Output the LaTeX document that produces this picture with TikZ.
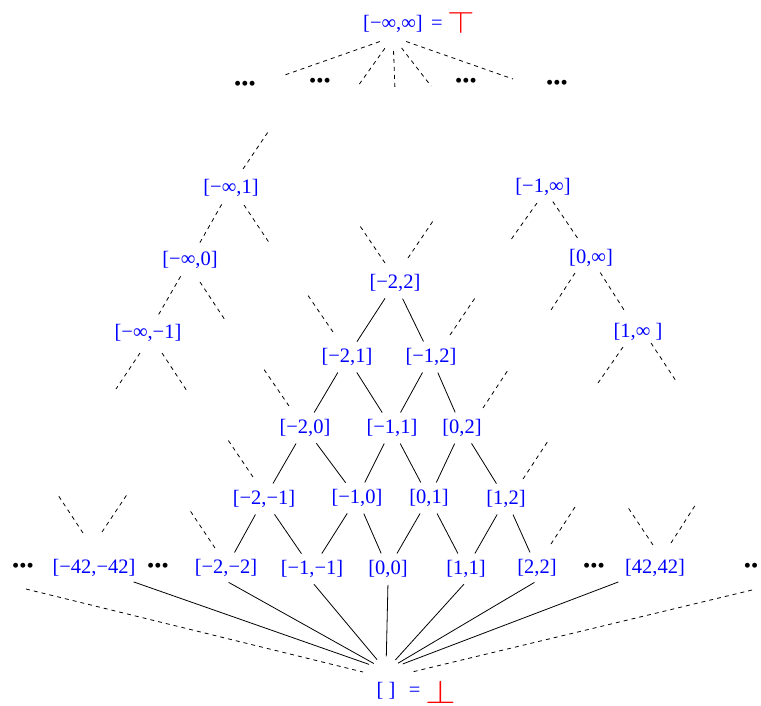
\documentclass[tikz,border=0pt]{standalone}
\usepackage{fontspec}
\setmainfont{Liberation Serif}
\usetikzlibrary{calc}

\begin{document}
\begin{tikzpicture}[x=1pt, y=-1pt,
        every node/.style={font=\fontsize{20.5}{24}\selectfont, text=blue, inner sep=4pt},
        dots/.style={text=black},
        edge/.style={line width=0.8pt, shorten <=3pt, shorten >=3pt},
        stub/.style={line width=0.8pt, dash pattern=on 4pt off 4pt}]
    \useasboundingbox (0,0) rectangle (761,705);
    % top and bottom
    \node (topel) at (393,24) {[−∞,∞]};
    \node[anchor=base west] (topeq) at (topel.base east) {= \textcolor{red}{\raisebox{-4pt}{\scalebox{1.7}[1.5]{$\top$}}}};
    \node (botel) at (386,691) {[\ ]};
    \node[anchor=base west] (boteq) at (botel.base east) {\ = \textcolor{red}{\raisebox{-7pt}{\scalebox{1.9}[1.6]{$\bot$}}}};
    % dots
    \node[dots] (dt1) at (245,86) {•••};
    \node[dots] (dt2) at (320,83) {•••};
    \node[dots] (dt3) at (466,83) {•••};
    \node[dots] (dt4) at (557,85) {•••};
    \node[dots] (db1) at (23,568) {•••};
    \node[dots] (db2) at (158,568) {•••};
    \node[dots] (db3) at (594,568) {•••};
    \node[dots] (db4) at (751,568) {••};
    % infinite chains
    \node (iminf1) at (231,188) {[−∞,1]};
    \node (iminf0) at (190,260) {[−∞,0]};
    \node (iminfm1) at (148,333) {[−∞,−1]};
    \node (im1inf) at (543,187) {[−1,∞]};
    \node (i0inf) at (591,258) {[0,∞]};
    \node (i1inf) at (638,332) {[1,∞\ ]};
    % finite intervals
    \node (im22) at (395,283) {[−2,2]};
    \node (im21) at (347,357) {[−2,1]};
    \node (im12) at (431,357) {[−1,2]};
    \node (im20) at (305,428) {[−2,0]};
    \node (im11) at (392,428) {[−1,1]};
    \node (i02) at (462,428) {[0,2]};
    \node (im2m1) at (264,499) {[−2,−1]};
    \node (im10) at (357,498) {[−1,0]};
    \node (i01) at (429,498) {[0,1]};
    \node (i12) at (506,499) {[1,2]};
    \node (im42m42) at (94,568) {[−42,−42]};
    \node (im2m2) at (226,568) {[−2,−2]};
    \node (im1m1) at (312,569) {[−1,−1]};
    \node (i00) at (388,569) {[0,0]};
    \node (i11) at (466,569) {[1,1]};
    \node (i22) at (537,568) {[2,2]};
    \node (i4242) at (655,568) {[42,42]};

    % fan below top
    \coordinate (t1) at (282,76);
    \coordinate (t2) at (358,86);
    \coordinate (t3) at (395,90);
    \coordinate (t4) at (431,86);
    \coordinate (t5) at (513,79);
    \foreach \t in {t1,t2,t3,t4,t5}
        \draw[stub, shorten <=14pt] (topel.south) -- (\t);

    % chains
    \draw[stub, shorten <=4pt, shorten >=5pt] (iminf1) -- (iminf0);
    \draw[stub, shorten <=4pt, shorten >=5pt] (iminf0) -- (iminfm1);
    \draw[stub, shorten <=2pt, shorten >=6pt] (im1inf) -- (i0inf);
    \draw[stub, shorten <=2pt, shorten >=8pt] (i0inf) -- (i1inf);

    % loose dashed ends
    \foreach \n/\a/\b/\c/\d in {
            iminf1/12/-19/37/-56, iminf1/13/17/39/56, iminf0/10/22/35/60,
            iminfm1/-8/20/-32/56, iminfm1/14/20/39/58,
            im1inf/-6/16/-33/54, i0inf/-16/15/-40/52,
            i1inf/-15/15/-40/51, i1inf/13/11/38/49,
            im22/-10/-20/-35/-57, im22/13/-25/38/-62,
            im21/-14/-25/-40/-63, im12/19/-22/44/-59,
            im20/-16/-22/-42/-60, i02/21/-20/46/-58,
            im2m1/-11/-22/-36/-59, i12/17/-20/42/-58,
            im2m2/-11/-20/-37/-59, i22/14/-24/38/-61,
            im42m42/-11/-35/-36/-73, im42m42/8/-36/34/-75,
            i4242/-2/-23/-28/-62, i4242/16/-25/41/-64}
        \draw[stub] ($(\n)+(\a,\b)$) -- ($(\n)+(\c,\d)$);

    % lattice
    \foreach \u/\v in {im22/im21, im22/im12, im21/im20, im21/im11, im12/im11, im12/i02,
            im20/im2m1, im20/im10, im11/im10, im11/i01, i02/i01, i02/i12,
            im2m1/im2m2, im2m1/im1m1, im10/im1m1, im10/i00, i01/i00, i01/i11, i12/i11, i12/i22}
        \draw[edge] (\u) -- (\v);

    % down to bottom
    \coordinate (bt) at ([yshift=8pt]botel.north);
    \foreach \u in {im2m2, im1m1, i00, i11, i22}
        \draw[edge, shorten >=14pt] (\u.south) -- (bt);
    \draw[edge, shorten >=18pt] (im42m42) -- (bt);
    \draw[edge, shorten >=18pt] (i4242) -- (bt);
    \draw[stub] ([shift={(3,21)}]db1.center) -- ([shift={(-23,-19)}]botel.center);
    \draw[stub] ([shift={(1,22)}]db4.center) -- ([shift={(26,-19)}]botel.center);
\end{tikzpicture}
\end{document}
